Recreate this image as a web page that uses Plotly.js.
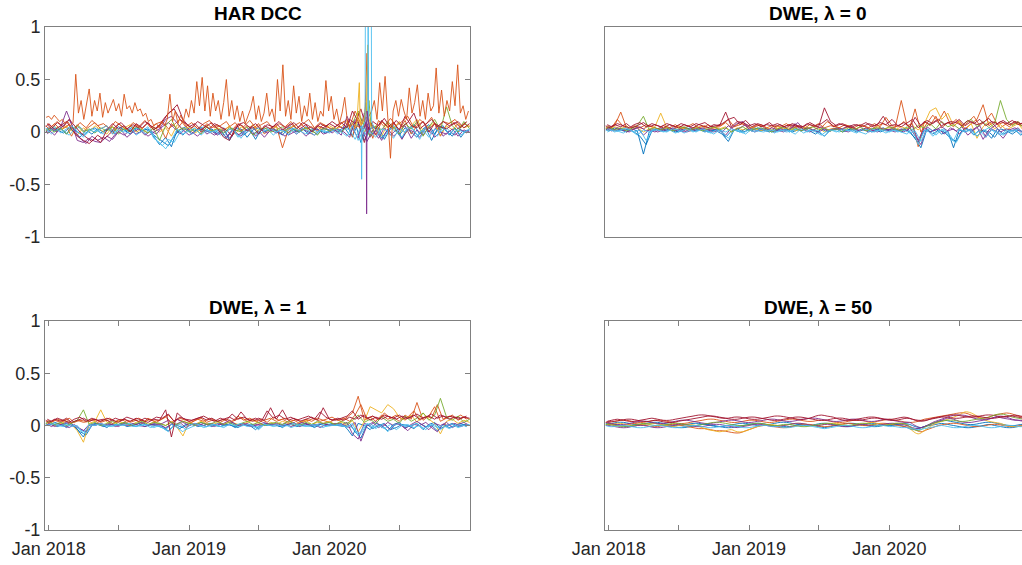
<!DOCTYPE html>
<html><head><meta charset="utf-8">
<script src="https://cdn.plot.ly/plotly-3.0.1.min.js"></script>
<style>html,body{margin:0;padding:0;overflow:hidden;background:#fff}#chart{width:1040px;height:565px}</style>
</head><body><div id="chart"></div><script>
// ---------- shared time grids ----------
const dates = ["2017-12-24",
"2018-01-01","2018-01-16","2018-02-01","2018-02-16","2018-03-01","2018-03-16","2018-04-01","2018-04-16","2018-05-01","2018-05-16","2018-06-01","2018-06-16",
"2018-07-01","2018-07-16","2018-08-01","2018-08-16","2018-09-01","2018-09-16","2018-10-01","2018-10-16","2018-11-01","2018-11-16","2018-12-01","2018-12-16",
"2019-01-01","2019-01-16","2019-02-01","2019-02-16","2019-03-01","2019-03-16","2019-04-01","2019-04-16","2019-05-01","2019-05-16","2019-06-01","2019-06-16",
"2019-07-01","2019-07-16","2019-08-01","2019-08-16","2019-09-01","2019-09-16","2019-10-01","2019-10-16","2019-11-01","2019-11-16","2019-12-01","2019-12-16",
"2020-01-01","2020-01-16","2020-02-01","2020-02-16","2020-03-01","2020-03-16","2020-04-01","2020-04-16","2020-05-01","2020-05-16","2020-06-01","2020-06-16",
"2020-07-01","2020-07-16","2020-08-01","2020-08-16","2020-09-01","2020-09-16","2020-10-01","2020-10-16","2020-11-01","2020-11-16","2020-12-01","2020-12-16",
"2020-12-31"];
const dates2 = ["2017-12-28",
"2018-01-08","2018-01-23","2018-02-08","2018-02-23","2018-03-08","2018-03-23","2018-04-08","2018-04-23","2018-05-08","2018-05-23","2018-06-08","2018-06-23",
"2018-07-08","2018-07-23","2018-08-08","2018-08-23","2018-09-08","2018-09-23","2018-10-08","2018-10-23","2018-11-08","2018-11-23","2018-12-08","2018-12-23",
"2019-01-08","2019-01-23","2019-02-08","2019-02-23","2019-03-08","2019-03-23","2019-04-08","2019-04-23","2019-05-08","2019-05-23","2019-06-08","2019-06-23",
"2019-07-08","2019-07-23","2019-08-08","2019-08-23","2019-09-08","2019-09-23","2019-10-08","2019-10-23","2019-11-08","2019-11-23","2019-12-08","2019-12-23",
"2020-01-08","2020-01-23","2020-02-08","2020-02-23","2020-03-08","2020-03-23","2020-04-08","2020-04-23","2020-05-08","2020-05-23","2020-06-08","2020-06-23",
"2020-07-08","2020-07-23","2020-08-08","2020-08-23","2020-09-08","2020-09-23","2020-10-08","2020-10-23","2020-11-08","2020-11-23","2020-12-08","2020-12-23"];
const weeks = ["2017-12-25",
"2018-01-01","2018-01-08","2018-01-15","2018-01-22","2018-01-29","2018-02-05","2018-02-12","2018-02-19","2018-02-26",
"2018-03-05","2018-03-12","2018-03-19","2018-03-26","2018-04-02","2018-04-09","2018-04-16","2018-04-23","2018-04-30",
"2018-05-07","2018-05-14","2018-05-21","2018-05-28","2018-06-04","2018-06-11","2018-06-18","2018-06-25",
"2018-07-02","2018-07-09","2018-07-16","2018-07-23","2018-07-30","2018-08-06","2018-08-13","2018-08-20","2018-08-27",
"2018-09-03","2018-09-10","2018-09-17","2018-09-24","2018-10-01","2018-10-08","2018-10-15","2018-10-22","2018-10-29",
"2018-11-05","2018-11-12","2018-11-19","2018-11-26","2018-12-03","2018-12-10","2018-12-17","2018-12-24","2018-12-31",
"2019-01-07","2019-01-14","2019-01-21","2019-01-28","2019-02-04","2019-02-11","2019-02-18","2019-02-25",
"2019-03-04","2019-03-11","2019-03-18","2019-03-25","2019-04-01","2019-04-08","2019-04-15","2019-04-22","2019-04-29",
"2019-05-06","2019-05-13","2019-05-20","2019-05-27","2019-06-03","2019-06-10","2019-06-17","2019-06-24",
"2019-07-01","2019-07-08","2019-07-15","2019-07-22","2019-07-29","2019-08-05","2019-08-12","2019-08-19","2019-08-26",
"2019-09-02","2019-09-09","2019-09-16","2019-09-23","2019-09-30","2019-10-07","2019-10-14","2019-10-21","2019-10-28",
"2019-11-04","2019-11-11","2019-11-18","2019-11-25","2019-12-02","2019-12-09","2019-12-16","2019-12-23","2019-12-30",
"2020-01-06","2020-01-13","2020-01-20","2020-01-27","2020-02-03","2020-02-10","2020-02-17","2020-02-24",
"2020-03-02","2020-03-09","2020-03-16","2020-03-23","2020-03-30","2020-04-06","2020-04-13","2020-04-20","2020-04-27",
"2020-05-04","2020-05-11","2020-05-18","2020-05-25","2020-06-01","2020-06-08","2020-06-15","2020-06-22","2020-06-29",
"2020-07-06","2020-07-13","2020-07-20","2020-07-27","2020-08-03","2020-08-10","2020-08-17","2020-08-24","2020-08-31",
"2020-09-07","2020-09-14","2020-09-21","2020-09-28","2020-10-05","2020-10-12","2020-10-19","2020-10-26",
"2020-11-02","2020-11-09","2020-11-16","2020-11-23","2020-11-30","2020-12-07","2020-12-14","2020-12-21","2020-12-28"];

// ---------- panel titles & ticks ----------
const panelTitles = ["HAR DCC", "DWE, λ = 0", "DWE, λ = 1", "DWE, λ = 50"];
const xTickVals = ["2018-01-01","2018-07-01","2019-01-01","2019-07-01","2020-01-01","2020-07-01"];
const xTickText = ["Jan 2018","","Jan 2019","","Jan 2020",""];
const yTickVals = [-1,-0.5,0,0.5,1];
const yTickText = ["-1","-0.5","0","0.5","1"];
// MATLAB default colour order: blue, orange, yellow, purple, green, cyan, maroon
const seriesColors = ["#0072BD","#D95319","#EDB120","#7E2F8E","#77AC30","#4DBEEE","#A2142F"];

// ---------- HAR DCC ----------
const harBlue = [.02,.04,.01,.03,-.02,.05,.0,-.03,.02,.04, -.01,.03,.0,.05,.02,-.02,.04,.01,.03,-.04, -.12,-.05,-.14,.02,-.03,.04,.01,.05,.0,.03, -.02,.04,-.08,.01,.03,-.05,.02,.04,.0,.03, .01,-.03,.04,.02,.0,.05,.01,-.02,.03,.02, .04,.0,.06,-.04,.08,-.08,.03,.05,-.06,.02, .06,-.03,.04,.0,-.05,.03,.07,-.02,.05,.01, -.04,.04,.0,.02];
const harOrange = [.06,.03,.08,.02,.05,-.04,.07,.01,.05,.09, .03,.06,-.02,.08,.04,.01,.07,.03,.09,.02, .06,-.06,.08,.03,.1,.02,.06,.0,.08,.04, .07,.02,.05,.09,.01,.06,.03,.08,-.02,.04, .06,-.15,.02,.06,.09,.03,.05,.01,.07,.04, .02,.08,.12,-.05,.18,.05,.09,-.03,.1,.04, .08,.02,.11,-.02,.06,.1,.03,.08,-.04,.07, .1,.03,.08,.05];
const harYellow = [.03,.0,.05,.02,.06,.01,-.03,.04,.0,.06, .02,-.02,.05,.01,.04,.07,.0,.03,-.01,.05, .0,.04,-.04,.07,.02,.05,-.01,.03,.06,.0, .04,.01,.06,-.02,.05,.02,.07,.0,.04,.02, .05,.0,.03,.06,.01,.04,-.02,.05,.02,.06, .03,.05,.1,.02,.12,.0,.09,.04,-.04,.08, .03,.1,-.02,.06,.12,.01,.05,.09,-.03,.06, .02,.08,.04,.06];
const harPurple = [.0,.02,-.03,.05,.2,.08,-.08,-.1,-.06,-.09, -.1,-.04,-.07,.0,-.03,.02,-.02,.01,-.04,.0, .03,.12,.15,.08,.02,-.03,.0,.04,-.02,.01, -.03,.02,-.06,.0,-.04,.03,-.02,.01,-.05,.02, -.01,.03,-.03,.0,.02,-.04,.01,.03,-.02,.0, .02,-.03,.15,.04,-.06,.18,-.05,.02,-.08,.03, -.04,.01,.06,-.06,.02,-.03,.05,-.05,.0,-.02, .03,-.04,.02,.0];
const harGreen = [.01,.03,.0,.04,-.02,.03,.06,.0,.03,-.01, .04,.01,.05,-.02,.03,.0,.05,.02,-.01,.04, -.08,.06,.12,.01,.04,.0,.03,-.02,.05,.01, .03,-.01,.04,.02,.0,.05,-.03,.02,.04,.0, .02,.05,-.01,.03,.0,.04,.02,-.03,.04,.01, .03,.0,.05,.08,.2,.05,-.04,.06,.02,.1, .04,-.02,.08,.03,.1,-.04,.05,.12,.02,.24, .06,.0,.1,.03];
const harCyan = [.04,.0,.05,-.01,.03,.06,.01,-.05,.02,.0, .03,.06,-.02,.02,.0,.04,-.03,.01,.05,-.06, -.1,-.16,-.08,.03,-.02,.01,.04,-.03,.02,.0, .02,-.04,.03,.0,-.06,.02,.04,-.02,.01,.03, .0,.02,-.03,.04,.01,-.02,.03,.0,.02,-.01, .03,.0,-.04,.06,-.08,.04,.0,-.05,.03,.01, -.06,.03,.0,.05,-.03,.02,-.05,.03,.0,.04, -.02,.02,.0,.03];
const harMaroon = [.05,.08,.02,.06,.1,.03,-.04,-.08,-.11,-.06, -.1,.02,.08,.03,.06,.0,.08,.04,.09,.02, .07,.15,.2,.26,.12,.05,.08,.02,.06,.09, .03,-.05,-.08,.04,.07,.01,.05,-.02,.06,.03, .08,.02,.05,.09,.03,.07,.0,.06,.04,.08, .05,.09,.04,.2,.1,-.1,.08,.03,.11,.05, .09,.02,.15,.06,.04,.1,.0,.08,.05,.03, .07,.1,.04,.08];
// second set of HAR series, on the offset grid dates2
const harBlue2 = [.01,.05,.02,-.01,.04,.0,-.05,.02,-.02,.03, .0,.04,-.02,.03,.01,.05,-.01,.03,.0,-.05, -.09,-.13,-.04,.02,.05,-.02,.03,.0,.04,-.01, .03,-.06,.01,.04,-.03,.02,-.07,.03,.01,.04, -.02,.02,.05,.0,.03,-.02,.04,.01,-.01,.03, .0,.05,-.03,.09,-.1,.06,-.02,.04,-.07,.03, .05,-.06,.02,.07,-.02,.04,-.08,.03,.06,-.03, .04,-.05,.02];
const harOrange2 = [.08,.05,.1,.04,.07,.02,.09,.04,.11,.06, .08,.03,.1,.06,.02,.09,.05,.11,.04,.08, .1,.03,.07,.12,.05,.09,.03,.08,.11,.04, .06,.1,.02,.08,.05,.11,.04,.07,.1,.03, .08,.05,.1,.03,.07,.12,.04,.09,.06,.02, .07,.1,.05,.2,.08,.14,-.06,.11,.05,.13, .06,.1,.15,.04,.12,.07,.14,.03,.1,.08, .12,.05,.09];
const harPurple2 = [-.02,.03,.0,.06,.12,.02,-.06,-.11,-.04,-.08, -.05,-.09,-.02,.02,-.05,.0,.03,-.03,.01,-.02, .05,.09,.04,-.02,.03,.0,-.04,.02,.0,-.03, .01,-.05,.02,-.03,.0,.04,-.04,.02,-.01,.03, .0,-.04,.02,-.02,.03,.0,-.03,.02,.04,-.01, .03,.0,-.05,.12,.05,-.09,.02,-.06,.04,-.03, .02,-.07,.03,.0,-.05,.04,-.02,.06,-.04,.01, -.03,.02,-.01];
const harCyan2 = [.02,-.02,.04,.01,-.03,.02,.05,-.02,.03,.01, -.02,.04,.0,.05,-.01,.02,.04,-.02,.03,-.08, -.13,-.07,-.1,.0,.03,-.02,.02,.05,-.01,.02, -.03,.01,.04,-.05,.0,.03,-.02,.02,.04,-.03, .02,.0,.03,-.02,.04,.01,-.03,.02,.0,.03, -.02,.04,.02,-.07,.05,-.04,.06,.0,-.05,.04, .0,-.05,.05,.02,-.07,.04,.0,-.04,.05,-.02, .03,-.03,.01];
const harMaroon2 = [.07,.03,.09,.05,.12,.06,.0,-.05,-.09,-.03, -.07,-.02,.05,.09,.03,.07,.04,.1,.06,.03, .09,.18,.22,.12,.08,.04,.1,.06,.03,.08, .05,.02,-.04,.07,.09,.04,.08,.02,.07,.05, .1,.04,.08,.03,.09,.06,.02,.08,.05,.1, .06,.03,.12,.08,.22,.02,.1,.06,.13,.04, .11,.05,.09,.18,.03,.08,.12,.05,.1,.06, .09,.04,.1];
const harOrangeWeekly = [.14,.15,.12,.16,.13,.1,.12,.08,.1,.06,.09, .55, .18,.3,.12,.28,.41,.15,.3,.2,.37,
 .14,.28,.18,.24,.31,.2,.27,.15,.36,.22, .25,.18,.28,.2,.22,.15,.18,.1,.12,.06, .08,.04,.1,.06,.12,.36,.1,.2,.08,.16,
 .1,.22,.14,.3,.18,.48,.25,.52,.2,.44, .15,.37,.2,.3,.12,.28,.5,.15,.3,.12, .25,.1,.2,.08,.15,.22,.34,.12,.25,.1,
 .18,.37,.15,.22,.1,.5,.2,.64,.15,.3, .12,.44,.18,.34,.1,.25,.15,.37,.12,.28, .1,.2,.15,.49,.2,.34,.12,.22,.08,.18,
 .33,.1,.05,.08,.04,.06,.02,.05,.1,.15, .2,.3,.12,.47,.2,.53,.15,-.25,.2,.3, .15,.31,.2,.12,.42,.18,.28,.45,.15,.3,
 .12,.37,.2,.25,.61,.18,.4,.15,.3,.2, .48,.25,.64,.18,.25,.12,.2];
// March/April 2020 spikes (HAR DCC)
const spikeCyanADates = ["2020-03-20","2020-03-24","2020-03-25","2020-03-26","2020-04-01"];
const spikeCyanAVals = [.03,.05,-.45,.06,.02];
const spikeCyanBDates = ["2020-03-28","2020-04-03","2020-04-04","2020-04-19","2020-04-20","2020-04-28"];
const spikeCyanBVals = [.05,.1,1.5,1.5,.1,.03];
const spikeCyanCDates = ["2020-04-05","2020-04-10","2020-04-11","2020-04-12","2020-04-16"];
const spikeCyanCVals = [.08,.12,1.5,.1,.04];
const spikeYellowDates = ["2020-03-12","2020-03-19","2020-03-21","2020-03-24","2020-04-06","2020-04-10","2020-04-12","2020-04-18"];
const spikeYellowVals = [.05,.47,.12,.06,.2,.83,.15,.05];
const spikePurpleDates = ["2020-03-31","2020-04-06","2020-04-07","2020-04-08","2020-04-15"];
const spikePurpleVals = [.03,.1,-.78,.2,.02];
const spikeGreenDates = ["2020-03-30","2020-04-05","2020-04-09","2020-04-13","2020-04-19"];
const spikeGreenVals = [.05,.28,.12,.3,.04];
const spikeOrangeDates = ["2020-04-02","2020-04-08","2020-04-12"];
const spikeOrangeVals = [.1,.75,.1];

// ---------- DWE, lambda = 0 ----------
const l0Blue = [.03,.01,.04,.02,.0,.03,.01,-.21,.0,.02, .04,.01,.03,.0,.02,.04,.01,.03,.0,.02, .03,-.05,.01,.03,.0,.02,.04,.01,.03,.0, .02,.04,.0,.03,.01,.04,.02,.0,-.04,.02, .03,.0,.02,.04,.01,.03,.0,.02,.04,.01, .03,.0,.04,-.03,-.1,.02,.0,.03,-.02,.01, -.15,.02,.0,.03,-.04,.02,.0,-.05,.03,.01, -.02,.02,.0,.03];
const l0Orange = [.05,.03,.06,.19,.04,.02,.05,.03,.06,.04, .02,.05,.03,.06,.04,.02,.05,.03,.07,.04, .05,.09,.04,.06,.08,.03,.05,.07,.04,.06, .03,.05,.07,.04,.06,.03,.05,.08,.04,.06, .05,.03,.06,.04,.07,.05,.03,.06,.08,.05, .04,.3,.06,.08,-.14,.1,.06,.15,.04,.09, .05,.11,.03,.08,.12,.26,.06,.1,.04,.08, .07,.1,.04,.06];
const l0Yellow = [.04,.02,.05,.03,.06,.02,.04,.0,.03,.05, .18,.04,.02,.05,.03,.01,.04,.06,.02,.04, .03,.05,.0,.04,.02,.05,.03,.01,.04,.02, .05,.03,.04,.01,.03,.05,.02,.04,.0,.03, .04,.02,.05,.03,.01,.04,.02,.05,.03,.04, .02,.05,.03,.06,.02,.08,.2,.23,.12,.18, .06,.1,.02,.08,-.06,.05,.1,.03,.07,.02, .05,.08,.01,.04];
const l0Purple = [.02,.04,.01,.03,.0,.02,.04,-.03,.02,.0, .03,.01,.04,.02,.0,.03,.01,.04,.02,.0, .02,-.03,.04,.08,.1,.02,.0,.03,.01,.04, .02,.0,.03,.08,.01,.04,.02,.0,.03,.01, .04,.02,.0,.03,.01,.04,.02,.0,.03,.02, .0,.03,.01,.06,-.08,.04,.0,.02,.05,.01, .03,-.02,.04,.01,.05,-.07,.02,.06,.0,.03, .01,.04,-.02,.02];
const l0Green = [.03,.05,.02,.04,.01,.03,.06,.15,.02,.04, .02,.04,.01,.03,.05,.02,.04,.01,.03,.05, .02,.04,.0,.03,.05,.01,.03,.04,.02,.0, .03,.05,.02,.04,.01,.03,.05,.02,.04,.01, .03,.0,.04,.02,.05,.01,.03,.04,.02,.05, .03,.01,.05,.02,.06,.04,.08,.03,.1,.05, .07,.03,.09,.12,.05,.1,.04,.08,.3,.12, .06,.1,.03,.08];
const l0Cyan = [.01,.03,.0,.02,.04,.01,-.03,.02,.0,.03, .01,.0,.03,.02,-.01,.02,.0,.03,.01,-.02, .02,.0,.03,.01,-.01,.02,.0,.03,.01,.02, .0,.02,.01,-.02,.03,.0,.02,.01,-.04,.02, .0,.03,.01,.02,.0,-.02,.03,.01,.02,.0, .02,.0,-.02,.03,-.12,.01,.03,-.03,.02,.0, -.08,.03,.0,.02,-.04,.01,.04,.0,-.03,.02, .0,.03,-.02,.01];
const l0Maroon = [.06,.04,.07,.05,.08,.04,.06,.09,.05,.07, .05,.08,.06,.04,.07,.05,.08,.06,.04,.07, .06,.19,.05,.1,.09,.06,.08,.05,.07,.06, .08,.05,.07,.06,.04,.08,.06,.05,.23,.1, .06,.08,.05,.07,.06,.09,.05,.07,.15,.06, .07,.05,.09,.12,.04,.1,.07,.11,.06,.09, .08,.12,.06,.1,.07,.09,.13,.06,.1,.08, .11,.07,.09,.1];
const l0Blue2 = [.02,.04,.01,.03,.02,.0,-.04,-.12,.01,.03, .01,.03,.0,.02,.04,.01,.03,.0,.02,.01, -.02,-.09,.02,.0,.03,.01,.04,.02,.0,.03, .01,.03,.0,.02,.04,.01,-.02,.03,.0,.02, .04,.01,.03,.0,.02,.01,.04,.0,.02,.03, .01,.03,.0,-.06,-.15,.03,-.02,.02,.0,-.06, -.09,.01,.03,-.03,.02,.0,-.06,.03,-.02,.01, .02,-.03,.01];
const l0Orange2 = [.06,.04,.12,.05,.03,.06,.04,.07,.05,.03, .06,.04,.07,.03,.05,.08,.04,.06,.03,.05, .07,.12,.05,.09,.06,.04,.07,.05,.03,.06, .05,.08,.04,.06,.03,.07,.05,.04,.1,.06, .04,.07,.05,.03,.06,.04,.08,.05,.14,.06, .05,.1,.04,.22,.0,.08,.16,.1,.2,.07, .12,.05,.09,.15,.06,.11,.18,.07,.09,.05, .1,.06,.08];
const l0Purple2 = [.03,.01,.04,.02,.0,.03,.05,.01,.03,.0, .02,.04,.01,.03,.0,.02,.04,.01,.03,.02, .0,.06,.02,.04,.07,.03,.01,.04,.02,.0, .03,.01,.04,.09,.02,.0,.03,.05,.01,.03, .02,.04,.06,.01,.03,.0,.02,.04,.01,.03, .02,.0,.04,-.04,-.12,.05,.01,.03,-.02,.04, .01,.05,-.03,.02,.06,-.05,.03,.0,-.06,.02, .04,.0,.02];
const l0Cyan2 = [.0,.02,.01,-.01,.03,.0,.02,-.08,.01,.02, .0,.02,-.01,.01,.03,.0,.02,.01,-.01,.02, .0,-.06,.02,.01,-.02,.03,.01,.0,.02,-.01, .02,.0,.01,.03,-.01,.02,.0,-.03,.01,.02, .0,.02,.01,-.01,.03,.01,.0,.02,-.01,.02, .0,.02,-.01,.01,-.09,.02,-.04,.01,.03,-.07, -.1,.0,.03,-.02,.01,-.05,.02,.0,-.03,.01, .02,-.02,.0];
const l0Maroon2 = [.07,.05,.08,.06,.04,.07,.09,.05,.08,.06, .04,.07,.05,.08,.06,.04,.07,.09,.05,.06, .08,.12,.14,.07,.11,.05,.08,.06,.09,.05, .07,.04,.08,.06,.05,.09,.06,.08,.12,.05, .08,.06,.04,.07,.05,.08,.06,.09,.07,.12, .06,.09,.05,.14,.06,.11,.08,.12,.07,.1, .09,.06,.11,.08,.12,.06,.1,.08,.11,.07, .1,.08,.09];

// ---------- DWE, lambda = 1 ----------
const l1Blue = [.02,.0,.03,.01,-.02,.02,-.04,-.11,.0,.02, .01,-.02,.02,.0,.03,.01,-.01,.02,.0,.01, .02,-.03,.01,.0,-.02,.02,.0,.03,.01,-.01, .02,.0,.01,-.02,.02,.0,.01,-.03,.02,.0, .01,-.02,.02,.0,.01,.02,-.01,.0,.02,.01, .0,.02,-.03,-.1,.02,.0,-.04,.02,.0,-.05, .01,.03,-.02,.0,.02,-.04,.01,.03,-.03,.0, .02,-.01,.01,.0];
const l1Orange = [.04,.02,.05,.03,.06,.02,.05,.03,.04,.06, .03,.05,.02,.04,.06,.03,.05,.02,.07,.04, .05,.08,.03,.06,.04,.02,.05,.07,.03,.05, .04,.06,.03,.05,.08,.04,.06,.03,.05,.07, .04,.06,.03,.05,.02,.06,.04,.07,.05,.03, .06,.04,.08,.12,.28,.05,.08,.04,.1,.06, .08,.04,.1,.06,.22,.05,.09,.18,.04,.07, .1,.05,.08,.06];
const l1Yellow = [.01,.03,.0,.02,.04,.01,-.05,-.16,.02,.04, .15,.03,.01,.04,.02,.0,.03,.05,.01,.03, .02,.0,.04,-.02,-.1,.03,.01,.04,.02,.0, .03,.01,.04,.02,.0,.03,.05,.02,.0,.03, .01,.04,.02,.0,.03,.05,.01,.03,.02,.04, .01,.03,.0,.05,-.06,.04,.18,.15,.12,.2, .16,.08,.05,.1,.03,.12,.06,.02,-.08,.04, .06,.02,.05,.03];
const l1Purple = [.0,.02,-.01,.01,.03,.0,-.02,-.05,.01,.0, .02,.0,.01,-.01,.02,.0,.01,.03,.0,.02, .0,-.02,.01,.06,.03,.0,.02,.01,-.01,.02, .0,.02,.05,.01,.0,.02,-.01,.01,.03,.0, .02,.0,.01,.03,-.01,.02,.0,.01,.02,.0, .02,.0,.03,-.08,-.13,.02,.0,.04,-.02,.03, .0,.02,-.03,.01,.04,.0,-.04,.02,.0,.03, -.02,.01,.03,.0];
const l1Green = [.02,.04,.01,.03,.0,.02,.05,.15,.01,.03, .0,.02,.04,.01,.03,.0,.02,.04,.01,.03, .02,.0,.03,.01,.04,.02,.0,.03,.01,.02, .04,.01,.03,.0,.02,.04,.01,.03,.0,.02, .03,.01,.04,.02,.0,.03,.01,.04,.02,.03, .01,.04,.02,.05,.1,.03,.06,.02,.08,.04, .06,.02,.09,.04,.07,.12,.05,.1,.26,.08, .05,.09,.03,.06];
const l1Cyan = [.01,.0,.02,.0,.01,-.01,.0,-.08,.01,.0, .02,.0,-.01,.01,.0,.02,-.01,.0,.01,-.02, .0,-.04,.01,-.02,-.06,.0,.02,.0,-.01,.01, .0,-.02,.01,.0,.02,-.01,.0,-.04,.01,.0, .01,-.01,.0,.02,.0,-.01,.01,.0,-.02,.01, .0,.01,-.02,.02,-.1,.0,.02,-.03,.01,-.06, .0,.02,-.01,.0,.02,-.03,.0,.01,-.04,.0, .01,-.02,.0,.01];
const l1Maroon = [.05,.03,.06,.04,.07,.03,.05,.07,.04,.06, .04,.07,.05,.03,.06,.04,.07,.05,.03,.06, .05,.15,-.11,.12,.07,.04,.06,.08,.05,.07, .04,.06,.08,.05,.13,.06,.04,.07,.05,.17, .06,.15,.05,.07,.04,.06,.08,.05,.17,.06, .05,.07,.09,.14,.06,.1,.05,.08,.06,.09, .07,.1,.06,.08,.11,.07,.09,.06,.1,.08, .09,.06,.08,.07];
const l1Blue2 = [.0,.02,-.01,.01,.03,-.01,-.06,-.09,.0,.01, -.01,.01,.0,.02,-.01,.0,.02,-.01,.01,.0, -.02,-.05,.0,-.03,.01,.02,-.01,.0,.02,.0, -.01,.01,.0,-.02,.01,.0,-.04,.01,.0,.02, -.01,.0,.02,-.01,.0,.01,-.02,.01,.0,.02, .0,-.01,.02,-.06,-.12,.01,-.03,.0,.02,-.04, -.02,.01,.0,-.03,.02,-.01,.0,-.05,.01,-.02, .0,.02,-.01];
const l1Orange2 = [.05,.03,.06,.04,.07,.03,.05,.04,.06,.03, .05,.07,.04,.06,.03,.05,.07,.04,.06,.03, .06,.1,.04,.07,.05,.03,.06,.04,.07,.05, .03,.06,.04,.09,.05,.07,.04,.06,.03,.08, .05,.07,.04,.06,.03,.05,.07,.04,.06,.08, .05,.07,.04,.1,.2,.06,.09,.05,.12,.07, .1,.06,.08,.14,.05,.09,.07,.2,.06,.09, .07,.1,.06];
const l1Purple2 = [.01,-.01,.02,.0,-.02,.01,-.03,-.06,.0,.02, .0,.02,-.01,.01,.0,.02,.0,-.01,.01,.0, .02,.05,.0,.03,-.02,.01,.0,.02,.0,-.01, .02,.0,.03,.0,.02,-.01,.01,.0,.02,.01, .0,.02,-.01,.01,.03,.0,.01,-.02,.01,.0, .02,.0,-.02,.03,-.15,.0,.03,-.02,.01,-.04, .02,.0,-.05,.01,.0,.03,-.02,-.06,.01,.0, .02,-.01,.01];
const l1Cyan2 = [.0,.02,.0,-.01,.01,.0,-.04,-.07,.0,.01, .0,-.01,.01,.0,.02,-.01,.0,.01,-.02,.0, -.02,-.06,.0,.01,-.04,-.01,.01,-.02,.0,.01, -.01,.0,.02,-.01,.0,.01,-.02,.0,.01,-.01, .0,.01,-.02,.0,.01,-.01,.0,.02,-.01,.0, .01,-.01,.0,-.05,-.08,.02,-.02,.0,-.03,.01, -.04,.0,.01,-.02,.0,-.04,.01,-.02,.0,-.03, .0,.01,-.01];
const l1Maroon2 = [.06,.04,.07,.05,.03,.06,.08,.04,.07,.05, .06,.04,.07,.05,.08,.06,.04,.07,.05,.08, .07,.11,.04,.08,.06,.05,.07,.09,.06,.04, .07,.05,.11,.06,.08,.05,.07,.04,.14,.07, .1,.06,.08,.05,.07,.09,.06,.13,.08,.05, .07,.05,.08,.06,.1,.07,.09,.06,.1,.08, .06,.09,.07,.1,.06,.08,.11,.07,.09,.06, .08,.07,.09];

// ---------- DWE, lambda = 50 ----------
const l50Blue = [.02,.02,.01,.0,-.01,-.01,.0,.01,.02,.02, .01,.0,-.01,-.02,-.02,-.01,.0,.01,.01,.0, -.01,-.02,-.02,-.01,.0,.01,.02,.02,.01,.0, .0,-.01,-.01,.0,.01,.01,.0,-.01,-.02,-.01, .0,.01,.02,.02,.01,.0,-.01,-.01,.0,.01, .01,.0,-.02,-.04,-.03,-.01,.0,.01,.02,.01, .0,-.01,-.02,-.02,-.01,.0,.01,.0,-.01,-.02, -.02,-.01,.0,.0];
const l50Orange = [.03,.03,.04,.05,.05,.04,.03,.03,.04,.05, .05,.04,.03,.02,.02,.03,.04,.05,.06,.06, .05,.04,.03,.03,.04,.05,.05,.04,.03,.03, .04,.05,.06,.06,.05,.04,.04,.05,.05,.04, .03,.03,.04,.05,.05,.04,.03,.04,.05,.06, .05,.04,.03,.03,.04,.06,.07,.08,.09,.1, .11,.12,.12,.1,.08,.07,.08,.1,.11,.12, .11,.09,.08,.08];
const l50Yellow = [.01,.01,.02,.02,.01,.0,.0,.01,.02,.02, .01,.0,-.01,.0,.01,.01,.0,-.02,-.04,-.05, -.06,-.05,-.04,-.06,-.06,-.04,-.02,.0,.01,.01, .0,.0,.01,.02,.02,.01,.0,.0,.01,.02, .02,.01,.0,.0,.01,.02,.03,.02,.01,.01, .02,.02,.0,-.05,-.08,-.05,-.01,.02,.04,.06, .08,.1,.13,.12,.09,.06,.04,.03,.02,.0, -.01,-.01,.0,.01];
const l50Purple = [.0,.0,-.01,-.02,-.02,-.01,.0,.0,-.01,-.02, -.02,-.01,.0,.01,.01,.0,-.01,-.01,.0,.01, .01,.0,-.01,-.02,-.01,.0,.01,.01,.0,-.01, -.01,.0,.01,.02,.02,.01,.0,.0,.01,.01, .0,-.01,-.01,.0,.01,.01,.0,.0,.01,.02, .02,.01,.0,-.02,-.03,-.01,.01,.03,.05,.07, .06,.04,.03,.03,.04,.05,.06,.08,.09,.08, .06,.05,.04,.04];
const l50Green = [.01,.01,.0,-.01,-.01,.0,.01,.02,.01,.0, .0,.01,.02,.02,.01,.0,.0,.01,.02,.03, .03,.02,.01,.0,.0,.01,.02,.02,.01,.0, .0,.01,.01,.0,-.01,-.01,.0,.01,.02,.02, .01,.0,.0,.01,.02,.02,.01,.0,.0,.01, .02,.02,.01,-.03,-.05,-.02,.01,.03,.04,.05, .05,.04,.04,.05,.06,.07,.08,.1,.11,.1, .08,.07,.06,.06];
const l50Cyan = [.0,-.01,-.01,.0,.0,-.01,-.02,-.02,-.01,.0, .0,-.01,-.02,-.02,-.01,.0,.0,-.01,-.02,-.02, -.01,.0,.0,-.01,-.02,-.02,-.01,.0,.0,-.01, -.01,-.02,-.02,-.01,.0,.0,-.01,-.02,-.03,-.02, -.01,.0,.0,-.01,-.02,-.02,-.01,.0,.0,-.01, -.01,-.02,-.02,-.03,-.04,-.03,-.02,-.01,.0,-.01, -.02,-.02,-.01,.0,.0,-.01,-.02,-.02,-.01,.0, .0,-.01,-.01,.0];
const l50Maroon = [.03,.04,.04,.05,.06,.06,.05,.04,.04,.05, .04,.03,.03,.04,.05,.06,.07,.08,.09,.09, .08,.07,.06,.06,.07,.08,.08,.07,.06,.05, .05,.06,.07,.08,.08,.07,.06,.05,.05,.06, .07,.07,.06,.05,.05,.06,.07,.07,.06,.05, .05,.06,.07,.06,.05,.05,.06,.07,.08,.08, .07,.07,.08,.09,.09,.08,.07,.07,.08,.09, .09,.08,.07,.07];
const l50Blue2 = [.01,.02,.03,.03,.02,.01,.01,.02,.03,.03, .02,.01,.0,.0,.01,.02,.02,.01,.0,-.01, -.01,.0,.01,.02,.02,.01,.0,.0,.01,.02, .03,.03,.02,.01,.0,.0,.01,.02,.02,.01, .0,-.01,-.01,.0,.01,.02,.02,.01,.0,.0, .01,.02,.01,-.01,-.02,.0,.02,.04,.05,.04, .03,.02,.01,.01,.02,.03,.03,.02,.01,.0, .0,.01,.01];
const l50Orange2 = [.02,.01,.0,.0,.01,.02,.01,.0,-.01,-.01, .0,.01,.01,.0,-.01,-.02,-.03,-.03,-.04,-.05, -.05,-.06,-.07,-.07,-.05,-.03,-.01,.0,.0,-.01, -.02,-.02,-.01,.0,.01,.01,.0,-.01,-.01,.0, .01,.02,.02,.01,.0,.0,.01,.02,.02,.01, .0,-.01,-.02,-.04,-.06,-.04,-.02,.0,.01,.02, .02,.01,.0,-.01,-.01,.0,.01,.01,.0,-.01, -.01,.0,.0];
const l50Purple2 = [.03,.02,.01,.01,.02,.03,.04,.04,.03,.02, .02,.03,.04,.05,.05,.04,.03,.02,.02,.03, .04,.05,.05,.04,.03,.03,.04,.05,.06,.06, .05,.04,.04,.05,.06,.07,.07,.06,.05,.04, .04,.05,.06,.06,.05,.04,.04,.05,.06,.05, .04,.03,.03,.0,-.02,.0,.03,.05,.07,.09, .1,.1,.09,.07,.06,.06,.07,.08,.07,.06, .05,.05,.04];
const l50Maroon2 = [.04,.05,.06,.05,.04,.04,.05,.06,.07,.06, .05,.05,.06,.07,.08,.09,.1,.1,.09,.08, .07,.07,.08,.08,.07,.06,.06,.07,.08,.09, .09,.08,.07,.06,.06,.07,.09,.1,.09,.08, .06,.05,.05,.06,.07,.08,.08,.07,.06,.06, .07,.08,.07,.05,.04,.05,.07,.08,.09,.1, .1,.09,.08,.08,.09,.1,.1,.09,.08,.09, .1,.09,.08];

// ---------- build traces ----------
const traces = [];
function add(x, y, color, n, shape, w) {
  traces.push({type:'scatter', mode:'lines', x:x, y:y, xaxis:'x'+(n===1?'':n), yaxis:'y'+(n===1?'':n),
    line:{color:color, width:w||0.9, shape:shape||'linear'}, hoverinfo:'skip', showlegend:false});
}
const C = seriesColors;
function addPanel(n, main, extra, shape) {
  // main: 7 series on `dates`; extra: [blue2, orange2, purple2, cyan2, maroon2] on `dates2`
  const extraCols = [C[0], C[1], C[3], C[5], C[6]];
  for (let k = 0; k < 7; k++) {
    add(dates, main[k], C[k], n, shape);
    if (k < extra.length) add(dates2, extra[k], extraCols[k], n, shape);
  }
}
addPanel(1, [harBlue, harOrange, harYellow, harPurple, harGreen, harCyan, harMaroon],
            [harBlue2, harOrange2, harPurple2, harCyan2, harMaroon2]);
add(weeks, harOrangeWeekly, C[1], 1);
add(spikeGreenDates, spikeGreenVals, C[4], 1);
add(spikeOrangeDates, spikeOrangeVals, C[1], 1);
add(spikeYellowDates, spikeYellowVals, C[2], 1);
add(spikeCyanADates, spikeCyanAVals, C[5], 1);
add(spikeCyanBDates, spikeCyanBVals, C[5], 1);
add(spikeCyanCDates, spikeCyanCVals, C[5], 1);
add(spikePurpleDates, spikePurpleVals, C[3], 1);
addPanel(2, [l0Blue, l0Orange, l0Yellow, l0Purple, l0Green, l0Cyan, l0Maroon],
            [l0Blue2, l0Orange2, l0Purple2, l0Cyan2, l0Maroon2]);
addPanel(3, [l1Blue, l1Orange, l1Yellow, l1Purple, l1Green, l1Cyan, l1Maroon],
            [l1Blue2, l1Orange2, l1Purple2, l1Cyan2, l1Maroon2]);
// lambda = 50 extras: blue2, orange2, purple2, maroon2
(function () {
  const main = [l50Blue, l50Orange, l50Yellow, l50Purple, l50Green, l50Cyan, l50Maroon];
  const extra = [[l50Blue2, C[0]], [l50Orange2, C[1]], [l50Purple2, C[3]], [l50Maroon2, C[6]]];
  for (let k = 0; k < 7; k++) {
    add(dates, main[k], C[k], 4, 'spline');
    if (k < extra.length) add(dates2, extra[k][0], extra[k][1], 4, 'spline');
  }
})();

// ---------- layout ----------
const W = 1040, H = 565;
const axisColor = '#808080', textColor = '#262626';
const tickFont = {family:'Liberation Sans, Arial, sans-serif', size:18, color:textColor};
const xRange = ['2017-12-22','2021-01-01'];
const colL = [45/W, 470/W], colR = [605/W, 1030/W];
const rowT = [1-237/H, 1-27/H], rowB = [1-530/H, 1-321/H];

function xAx(dom, anchor, labels) {
  const a = {domain:dom, anchor:anchor, range:xRange, type:'date', showline:true, linecolor:axisColor, linewidth:1,
    showgrid:false, zeroline:false, tickfont:tickFont, fixedrange:true};
  if (labels) Object.assign(a, {tickmode:'array', tickvals:xTickVals, ticktext:xTickText, ticks:'inside', ticklen:5,
    tickcolor:axisColor, mirror:'ticks', showticklabels:true, ticklabelstandoff:2});
  else Object.assign(a, {ticks:'', showticklabels:false, mirror:true});
  return a;
}
function yAx(dom, anchor, labels) {
  const a = {domain:dom, anchor:anchor, range:[-1,1], showline:true, linecolor:axisColor, linewidth:1,
    showgrid:false, zeroline:false, tickfont:tickFont, fixedrange:true};
  if (labels) Object.assign(a, {tickmode:'array', tickvals:yTickVals, ticktext:yTickText, ticks:'inside', ticklen:5,
    tickcolor:axisColor, mirror:'ticks', showticklabels:true});
  else Object.assign(a, {ticks:'', showticklabels:false, mirror:true});
  return a;
}
function title(text, cx, cy) {
  return {text:'<b>'+text+'</b>', xref:'paper', yref:'paper', x:cx/W, y:1-cy/H, xanchor:'center', yanchor:'middle',
    showarrow:false, font:{family:'Liberation Sans, Arial, sans-serif', size:19, color:'#000'}};
}
const layout = {
  width:W, height:H, margin:{l:0, r:0, t:0, b:0}, paper_bgcolor:'#fff', plot_bgcolor:'#fff', showlegend:false,
  xaxis: xAx(colL, 'y', false),  yaxis: yAx(rowT, 'x', true),
  xaxis2: xAx(colR, 'y2', false), yaxis2: yAx(rowT, 'x2', false),
  xaxis3: xAx(colL, 'y3', true),  yaxis3: yAx(rowB, 'x3', true),
  xaxis4: xAx(colR, 'y4', true),  yaxis4: yAx(rowB, 'x4', false),
  annotations: [title(panelTitles[0], 257.5, 13), title(panelTitles[1], 817.5, 13),
                title(panelTitles[2], 257.5, 307), title(panelTitles[3], 817.5, 307)]
};
Plotly.newPlot('chart', traces, layout, {staticPlot:true, displayModeBar:false});
</script></body></html>
